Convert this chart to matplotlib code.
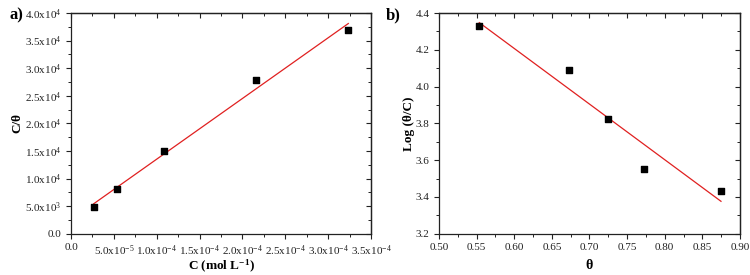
import numpy as np
import matplotlib
matplotlib.use("Agg")
import matplotlib.pyplot as plt
from matplotlib.ticker import MultipleLocator, AutoMinorLocator, FuncFormatter, NullFormatter

plt.rcParams['font.family'] = ['Liberation Serif', 'DejaVu Serif']
plt.rcParams['mathtext.fontset'] = 'custom'
plt.rcParams['mathtext.rm'] = 'Liberation Serif'
plt.rcParams['mathtext.it'] = 'Liberation Serif:italic'
plt.rcParams['mathtext.bf'] = 'Liberation Serif:bold'

# ---- data ----
conc = [2.65e-5, 5.37e-5, 1.08e-4, 2.16e-4, 3.235e-4]
c_over_theta = [4790, 8050, 14990, 27860, 36970]

theta = [0.5536, 0.6723, 0.725, 0.7724, 0.8748]
log_theta_c = [4.328, 4.092, 3.824, 3.553, 3.432]


def sci_fmt(v, pos):
    if v == 0:
        return "0.0"
    exp = int(np.floor(np.log10(abs(v)) + 1e-9))
    mant = v / 10**exp
    return r"%.1fx10$^{%d}$" % (mant, exp)


def style(ax, xstep, ystep):
    ax.xaxis.set_major_locator(MultipleLocator(xstep))
    ax.yaxis.set_major_locator(MultipleLocator(ystep))
    ax.tick_params(which='both', labelsize=8, colors='#222222', direction='out')
    ax.tick_params(which='major', length=3.5, width=0.8)
    ax.tick_params(which='minor', length=2, width=0.7)
    for s in ax.spines.values():
        s.set_linewidth(0.9)
        s.set_color('#222222')
    ax.xaxis.set_minor_locator(AutoMinorLocator(2))
    ax.yaxis.set_minor_locator(AutoMinorLocator(2))
    # mirrored ticks on top / right, pointing inward
    top = ax.secondary_xaxis('top')
    right = ax.secondary_yaxis('right')
    top.xaxis.set_major_locator(MultipleLocator(xstep))
    top.xaxis.set_minor_locator(AutoMinorLocator(2))
    right.yaxis.set_major_locator(MultipleLocator(ystep))
    right.yaxis.set_minor_locator(AutoMinorLocator(2))
    for sec in (top, right):
        sec.tick_params(which='both', direction='in', colors='#222222')
        sec.tick_params(which='major', length=3.5, width=0.8)
        sec.tick_params(which='minor', length=2, width=0.7)
        for s in sec.spines.values():
            s.set_linewidth(0.9)
            s.set_color('#222222')
    top.xaxis.set_major_formatter(NullFormatter())
    right.yaxis.set_major_formatter(NullFormatter())


fig = plt.figure(figsize=(7.5, 2.75), dpi=100)

# ---- panel a ----
ax1 = fig.add_axes([0.0947, 0.150, 0.400, 0.8025])
ax1.scatter(conc, c_over_theta, marker='s', s=22, color='black', zorder=3)
k, b = np.polyfit(conc, c_over_theta, 1)
xs = np.array([min(conc), max(conc)])
ax1.plot(xs, k * xs + b, color='#e02020', lw=0.9, zorder=2)
ax1.set_xlim(0, 3.5e-4)
ax1.set_ylim(0, 4.0e4)
style(ax1, 5e-5, 5e3)
ax1.xaxis.set_major_formatter(FuncFormatter(sci_fmt))
ax1.yaxis.set_major_formatter(FuncFormatter(sci_fmt))
ax1.set_xlabel(r"C (mol L$^{\mathbf{-1}}$)", fontsize=9.5, fontweight='bold', va='center')
ax1.xaxis.set_label_coords(0.5, -0.15)
ax1.set_ylabel("C/θ", fontsize=9.5, fontweight='bold', va='center')
ax1.yaxis.set_label_coords(-0.18, 0.5)
fig.text(0.012, 0.93, "a)", fontsize=12, fontweight='bold')

# ---- panel b ----
ax2 = fig.add_axes([0.5853, 0.150, 0.4013, 0.8025])
ax2.scatter(theta, log_theta_c, marker='s', s=22, color='black', zorder=3)
k2, b2 = np.polyfit(theta, log_theta_c, 1)
xs2 = np.array([min(theta), max(theta)])
ax2.plot(xs2, k2 * xs2 + b2, color='#e02020', lw=0.9, zorder=2)
ax2.set_xlim(0.5, 0.9)
ax2.set_ylim(3.2, 4.4)
style(ax2, 0.05, 0.2)
ax2.xaxis.set_major_formatter(FuncFormatter(lambda v, p: "%.2f" % v))
ax2.yaxis.set_major_formatter(FuncFormatter(lambda v, p: "%.1f" % v))
ax2.set_xlabel("θ", fontsize=10, fontweight='bold', va='center')
ax2.xaxis.set_label_coords(0.5, -0.145)
ax2.set_ylabel("Log (θ/C)", fontsize=9.5, fontweight='bold', va='center')
ax2.yaxis.set_label_coords(-0.10, 0.5)
fig.text(0.515, 0.93, "b)", fontsize=12, fontweight='bold')

fig.savefig("out.png", dpi=100)
